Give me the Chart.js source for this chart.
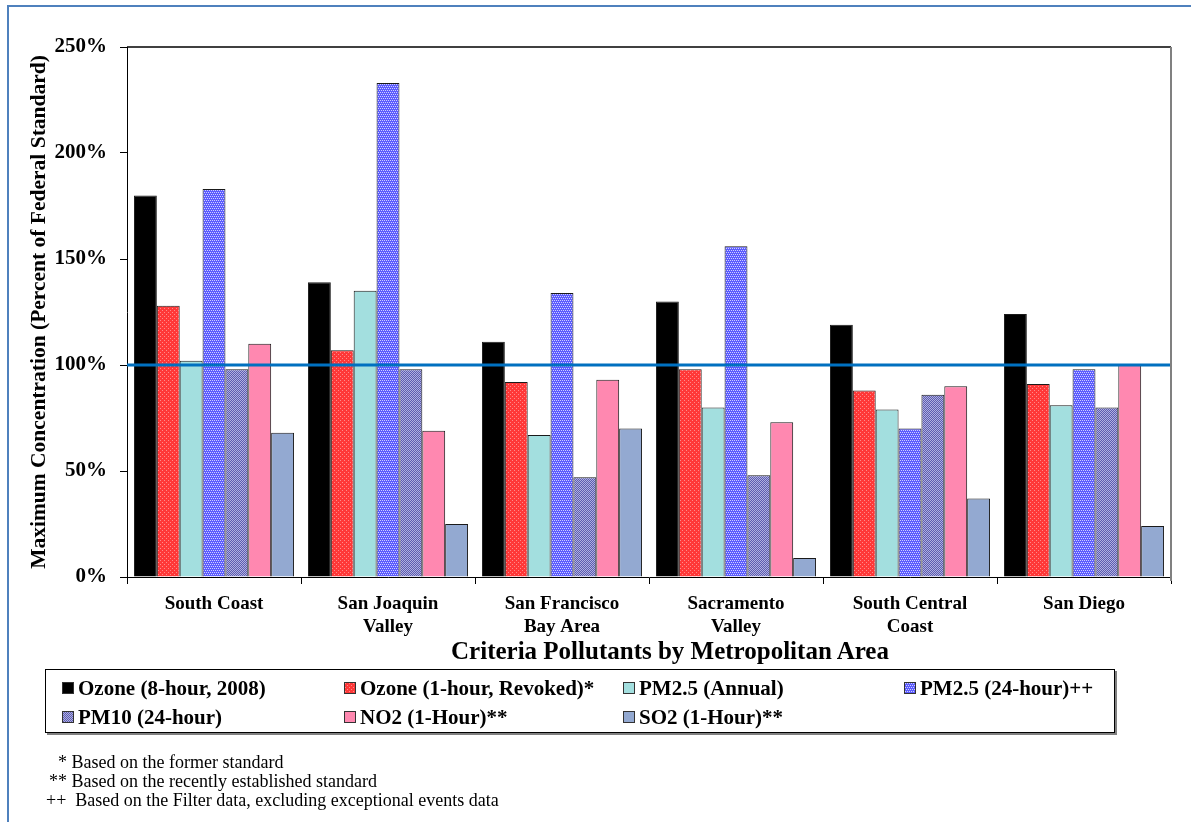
<!DOCTYPE html>
<html>
<head>
<meta charset="utf-8">
<script src="https://cdn.jsdelivr.net/npm/chart.js@4.4.1/dist/chart.umd.min.js"></script>
<style>
  html, body { margin: 0; padding: 0; background: #fff; }
  body { width: 1191px; height: 822px; position: relative; overflow: hidden; font-family: 'Liberation Serif', 'Times New Roman', serif; }
  #wrap { position: absolute; left: 0; top: 0; width: 1191px; height: 822px; }
  .frameTop { position: absolute; left: 7px; top: 5px; width: 1184px; height: 2px; background: #4f81bd; }
  .frameLeft { position: absolute; left: 7px; top: 5px; width: 2px; height: 817px; background: #4f81bd; }
  #xTitle { position: absolute; left: 370px; width: 600px; top: 636px; text-align: center; font-weight: bold; font-size: 25px; line-height: 30px; white-space: nowrap; }
  #legend { position: absolute; left: 45px; top: 669px; width: 1068px; height: 62px; border: 1px solid #000; box-shadow: 2px 2px 0 #808080; }
  .item { position: absolute; font-weight: bold; font-size: 21px; white-space: nowrap; line-height: 24px; }
  .sw { position: absolute; width: 10px; height: 10px; border: 1px solid #333; top: 6px; left: 0; }
  .note { position: absolute; font-size: 18px; white-space: nowrap; line-height: 20px; }
</style>
</head>
<body>
<div id="wrap"><canvas id="chart"></canvas></div>
<div class="frameTop"></div>
<div class="frameLeft"></div>
<div id="xTitle">Criteria Pollutants by Metropolitan Area</div>
<div id="legend"></div>
<div class="note" style="left:58px; top:752px;">* Based on the former standard</div>
<div class="note" style="left:49px; top:771px;">** Based on the recently established standard</div>
<div class="note" style="left:46px; top:790px;">++&nbsp; Based on the Filter data, excluding exceptional events data</div>
<script>
// values (percent of federal standard)
const areas = [['South Coast'], ['San Joaquin', 'Valley'], ['San Francisco', 'Bay Area'], ['Sacramento', 'Valley'], ['South Central', 'Coast'], ['San Diego']];
const ozone8hr = [180, 139, 111, 130, 119, 124];
const ozone1hr = [128, 107, 92, 98, 88, 91];
const pm25Annual = [102, 135, 67, 80, 79, 81];
const pm25Day = [183, 233, 134, 156, 70, 98];
const pm10Day = [98, 98, 47, 48, 86, 80];
const no2Hour = [110, 69, 93, 73, 90, 100];
const so2Hour = [68, 25, 70, 9, 37, 24];
const seriesNames = ['Ozone (8-hour, 2008)', 'Ozone (1-hour, Revoked)*', 'PM2.5 (Annual)', 'PM2.5 (24-hour)++',
                     'PM10 (24-hour)', 'NO2 (1-Hour)**', 'SO2 (1-Hour)**'];
const yTicks = [0, 50, 100, 150, 200, 250];
const standardLevel = 100;

// small dotted fills like the office chart patterns
function makeTile(base, dot, cells) {
    const c = document.createElement('canvas');
    c.width = 4; c.height = 4;
    const g = c.getContext('2d');
    g.fillStyle = base;
    g.fillRect(0, 0, 4, 4);
    g.fillStyle = dot;
    cells.forEach(p => g.fillRect(p[0], p[1], 1, 1));
    return c;
}
const tiles = {
    red: makeTile('#ff3838', '#ff8a8a', [[0, 0], [2, 2]]),
    blue: makeTile('#5c5cff', '#d0d0ff', [[0, 0], [2, 0], [1, 2], [3, 2]]),
    pm10: makeTile('#5c5cb0', '#b0b0e0', [[0, 0], [2, 0], [1, 1], [3, 1], [0, 2], [2, 2], [1, 3], [3, 3]])
};
const ctx = document.getElementById('chart').getContext('2d');
const pat = t => ctx.createPattern(t, 'repeat');

const fills = ['#000000', pat(tiles.red), '#a3dfdf', pat(tiles.blue), pat(tiles.pm10), '#ff88b0', '#93a9d1'];
const swatches = ['#000000', 'url(' + tiles.red.toDataURL() + ')', '#a3dfdf', 'url(' + tiles.blue.toDataURL() + ')',
                  'url(' + tiles.pm10.toDataURL() + ')', '#ff88b0', '#93a9d1'];
const values = [ozone8hr, ozone1hr, pm25Annual, pm25Day, pm10Day, no2Hour, so2Hour];

const standardLine = {
    id: 'standardLine',
    afterDatasetsDraw(chart) {
        const {ctx, chartArea, scales} = chart;
        const y = scales.y.getPixelForValue(standardLevel);
        ctx.save();
        ctx.strokeStyle = '#0070c0';
        ctx.lineWidth = 3;
        ctx.beginPath();
        ctx.moveTo(chartArea.left, y);
        ctx.lineTo(chartArea.right, y);
        ctx.stroke();
        // plot area frame: top black, right grey
        ctx.lineWidth = 1.5;
        ctx.strokeStyle = '#000';
        ctx.beginPath();
        ctx.moveTo(chartArea.left, chartArea.top);
        ctx.lineTo(chartArea.right, chartArea.top);
        ctx.stroke();
        ctx.lineWidth = 2;
        ctx.strokeStyle = '#808080';
        ctx.beginPath();
        ctx.moveTo(chartArea.right, chartArea.top);
        ctx.lineTo(chartArea.right, chartArea.bottom + 4);
        ctx.stroke();
        ctx.restore();
    }
};

new Chart(ctx, {
    type: 'bar',
    data: {
        labels: areas,
        datasets: values.map((v, i) => ({
            label: seriesNames[i],
            data: v,
            backgroundColor: fills[i],
            borderColor: '#1a1a1a',
            borderWidth: 1,
            categoryPercentage: 0.92,
            barPercentage: 1.0
        }))
    },
    options: {
        responsive: true,
        maintainAspectRatio: false,
        animation: false,
        layout: { padding: { left: 0, top: 47, right: 20, bottom: 157 } },
        plugins: { legend: { display: false }, tooltip: { enabled: false } },
        scales: {
            x: {
                afterFit(scale) { scale.height = 88; },
                grid: { display: true, drawOnChartArea: false, drawTicks: true, tickLength: 7, color: '#000' },
                border: { display: true, color: '#000', width: 1 },
                ticks: { color: '#000', padding: 9, maxRotation: 0, font: { family: 'Liberation Serif', weight: 'bold', size: 19, lineHeight: 1.2 } }
            },
            y: {
                min: 0,
                max: 250,
                afterFit(scale) { scale.width = 127; },
                afterBuildTicks(scale) { scale.ticks = yTicks.map(v => ({ value: v })); },
                grid: { display: true, drawOnChartArea: false, drawTicks: true, tickLength: 7, color: '#000' },
                border: { display: true, color: '#000', width: 1 },
                ticks: {
                    color: '#000',
                    padding: 13,
                    callback: v => v + '%',
                    font: { family: 'Liberation Serif', weight: 'bold', size: 21 }
                },
                title: {
                    display: true,
                    text: 'Maximum Concentration (Percent of Federal Standard)',
                    color: '#000',
                    padding: { top: 27, bottom: 0 },
                    font: { family: 'Liberation Serif', weight: 'bold', size: 21.5, lineHeight: 1.2 }
                }
            }
        }
    },
    plugins: [standardLine]
});

// legend box, four columns like the original
const legendCols = [62, 344, 623, 904];
const legendRows = [676, 705];
const legend = document.getElementById('legend');
seriesNames.forEach((name, i) => {
    const item = document.createElement('div');
    item.className = 'item';
    item.style.left = (legendCols[i % 4] - 46) + 'px';
    item.style.top = (legendRows[Math.floor(i / 4)] - 670) + 'px';
    item.style.paddingLeft = '16px';
    const sw = document.createElement('span');
    sw.className = 'sw';
    sw.style.background = swatches[i];
    item.appendChild(sw);
    item.appendChild(document.createTextNode(name));
    legend.appendChild(item);
});
</script>
</body>
</html>
